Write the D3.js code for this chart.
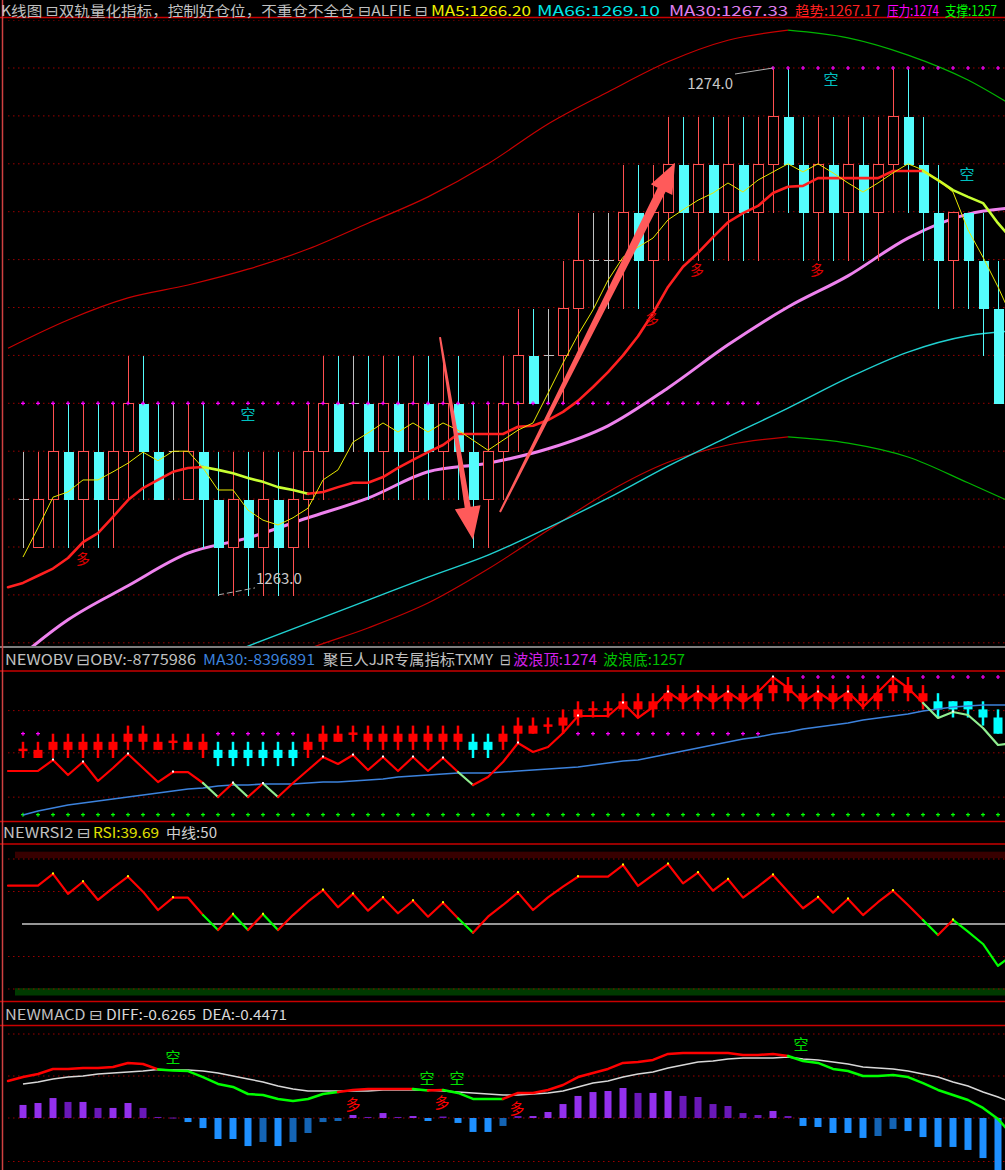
<!doctype html>
<html>
<head>
<meta charset="utf-8">
<title>双轨量化指标</title>
<script src="https://d3js.org/d3.v7.min.js"></script>
<style>
  body { margin:0; background:#000; overflow:hidden; }
  svg { display:block; background:#000; }
  text { font-family:"Noto Sans CJK SC","Noto Sans","DejaVu Sans",sans-serif; }
</style>
</head>
<body>
<svg id="chart" width="1005" height="1170"></svg>
<script>
// ---- candles (index 0..65) ----
const openP  = [1265,1264,1265,1266,1265,1266,1265,1266,1267,1266,
                1266,1265,1266,1265,1264,1265,1264,1265,1264,1265,
                1266,1267,1267,1267,1266,1267,1266,1267,1266,1267,
                1266,1265,1266,1267,1268,1268,1268,1269,1270,1270,
                1270,1271,1270,1271,1272,1271,1272,1271,1272,1271,
                1272,1273,1272,1271,1272,1271,1272,1271,1272,1273,
                1272,1271,1270,1271,1270,1269];
const closeP = [1265,1265,1266,1265,1266,1265,1266,1267,1266,1265,
                1266,1266,1265,1264,1265,1264,1265,1264,1265,1266,
                1267,1266,1267,1266,1267,1266,1267,1266,1267,1266,
                1265,1266,1267,1268,1267,1268,1269,1270,1270,1270,
                1271,1270,1271,1272,1271,1272,1271,1272,1271,1272,
                1273,1272,1271,1272,1271,1272,1271,1272,1273,1272,
                1271,1270,1271,1270,1269,1267];
const highP  = [1266,1266,1267,1267,1267,1267,1267,1268,1268,1267,
                1267,1267,1267,1266,1266,1266,1266,1266,1266,1267,
                1268,1268,1268,1268,1268,1268,1268,1268,1268,1268,
                1267,1267,1268,1269,1269,1269,1270,1271,1271,1271,
                1272,1272,1272,1273,1273,1273,1273,1273,1273,1273,
                1274,1274,1273,1273,1273,1273,1273,1273,1274,1274,
                1273,1272,1271,1271,1271,1270];
const lowP   = [1264,1264,1264,1264,1264,1264,1264,1265,1265,1265,
                1265,1265,1264,1263,1263,1263,1263,1263,1263,1264,
                1265,1266,1266,1265,1265,1265,1265,1265,1265,1265,
                1264,1264,1265,1266,1267,1267,1267,1268,1269,1269,
                1269,1269,1269,1270,1270,1270,1270,1270,1270,1270,
                1271,1271,1270,1270,1270,1270,1270,1270,1271,1271,
                1270,1269,1269,1269,1268,1267];
// wave top (压力) per candle, support (支撑)
const waveTop = [1267,1267,1267,1267,1267,1267,1267,1267,1267,1267,
                 1267,1267,1267,1267,1267,1267,1267,1267,1267,1267,
                 1267,1267,1267,1267,1267,1267,1267,1267,1267,1267,
                 1267,1267,1267,1267,1267,1267,1267,1267,1267,1267,
                 1267,1267,1267,1267,1267,1267,1267,1267,1267,1267,
                 1274,1274,1274,1274,1274,1274,1274,1274,1274,1274,
                 1274,1274,1274,1274,1274,1274];
const waveBottom = 1257;

// ---- per-candle lines, index -1..66 ----
const ma5 = [null,1263.79,1264.40,1265.04,1265.15,1265.40,1265.40,1265.57,1265.75,1265.98,1265.80,
  1266.00,1266.00,1265.65,1265.19,1265.19,1264.77,1264.56,1264.46,1264.61,1264.81,
  1265.40,1265.61,1266.19,1266.38,1266.59,1266.40,1266.59,1266.40,1266.59,1266.44,
  1266.23,1266.02,1266.23,1266.44,1266.59,1267.21,1267.84,1268.43,1268.95,1269.57,
  1270.05,1270.26,1270.45,1270.83,1271.04,1271.24,1271.39,1271.60,1271.41,1271.66,
  1271.83,1272.00,1271.83,1272.00,1271.81,1271.60,1271.41,1271.60,1271.81,1272.00,
  1271.87,1271.66,1271.41,1270.62,1270.05,1269.43,1268.74];
const trend = [1263.16,1263.25,1263.40,1263.55,1263.77,1264.10,1264.29,1264.63,1264.98,1265.23,1265.40,
  1265.57,1265.65,1265.67,1265.61,1265.54,1265.44,1265.36,1265.25,1265.19,1265.11,
  1265.15,1265.25,1265.34,1265.34,1265.46,1265.65,1265.82,1265.98,1266.13,1266.36,
  1266.36,1266.36,1266.36,1266.51,1266.53,1266.65,1266.82,1267.05,1267.34,1267.65,
  1268.00,1268.40,1268.88,1269.43,1269.85,1270.14,1270.47,1270.78,1270.97,1271.12,
  1271.39,1271.52,1271.54,1271.70,1271.70,1271.70,1271.70,1271.70,1271.85,1271.85,
  1271.85,1271.66,1271.45,1271.31,1271.18,1270.76,1270.40];

// ---- smooth lines sampled every 4 candles ----
const sIdx      = [-1,3,7,11,15,19,23,27,31,35,39,43,47,51,55,59,63,66];
const upperBand = [1268.15,1268.74,1269.20,1269.47,1269.80,1270.22,1270.76,1271.31,1272.00,
                   1272.83,1273.50,1274.13,1274.58,1274.79,1274.63,1274.27,1273.75,1273.21];
const lowerBand = [null,null,null,null,1261.33,1261.87,1262.31,1262.83,1263.54,
                   1264.35,1265.15,1265.77,1266.13,1266.30,1266.17,1265.88,1265.34,1264.92];
const ma66      = [null,null,null,1261.45,1261.93,1262.41,1262.89,1263.37,1263.83,
                   1264.40,1265.02,1265.69,1266.30,1266.90,1267.53,1268.07,1268.41,1268.51];
const ma30      = [1261.50,1262.48,1263.19,1263.87,1264.19,1264.61,1265.02,1265.57,1265.75,
                   1266.05,1266.53,1267.32,1268.22,1269.01,1269.66,1270.45,1270.95,1271.08];

// ---- OBV panel (万), index -1..66 ----
const obv = [-902.2,-902.2,-902.2,-891.8,-906.0,-893.7,-911.7,-899.4,-886.1,-899.4,-912.7,
  -903.2,-903.2,-913.6,-926.9,-913.6,-926.9,-914.1,-926.9,-913.6,-901.3,
  -889.0,-895.6,-887.1,-901.3,-889.0,-902.2,-889.0,-902.2,-889.9,-903.2,
  -915.5,-907.9,-893.7,-875.7,-884.2,-879.5,-866.2,-850.1,-850.1,-850.1,
  -837.8,-852.0,-841.6,-827.4,-836.9,-827.4,-836.9,-827.4,-836.9,-827.4,
  -813.2,-823.6,-836.9,-827.4,-836.9,-827.4,-841.6,-827.4,-813.2,-823.6,
  -837.8,-852.0,-846.3,-849.2,-861.5,-877.6,-875.7];
const obvMa = [null,-943.9,-940.1,-937.3,-934.5,-932.6,-930.7,-928.8,-926.9,-925.0,-923.1,
  -921.2,-919.3,-918.3,-916.4,-915.5,-915.5,-914.6,-914.6,-914.6,-913.6,
  -912.7,-912.7,-911.7,-910.8,-909.8,-907.9,-907.0,-906.0,-905.1,-904.1,
  -904.1,-904.1,-903.2,-902.2,-901.3,-900.3,-899.4,-898.4,-896.6,-894.7,
  -892.8,-891.8,-889.0,-886.1,-883.3,-880.4,-877.6,-874.8,-871.9,-870.0,
  -867.2,-865.3,-862.4,-860.5,-858.7,-856.8,-853.9,-852.0,-850.1,-848.2,
  -845.4,-843.5,-841.6,-840.6,-839.7,-839.7,-839.7];
const obvGreenSeg = [12,14,16,29,60,61,62,63,64,65];
const miniCyan = [13,14,15,16,17,18,30,31,61,62,63,64,65];
const obvGrid = [-845,-885,-927];

// ---- RSI, index -1..66 ----
const rsi = [73.6,73.6,73.6,80.8,68.5,76.0,64.8,72.2,79.1,69.9,58.6,
  66.2,66.2,55.5,46.3,56.0,46.3,56.0,46.3,55.5,63.7,
  70.9,60.3,68.5,58.2,66.2,56.6,64.3,54.5,63.1,53.5,
  44.6,54.5,61.7,69.3,58.6,66.4,73.0,79.1,79.1,79.1,
  86.3,73.4,80.2,86.9,75.0,81.6,70.5,77.5,66.2,73.0,
  80.2,69.9,59.7,66.4,57.0,65.4,55.5,63.4,70.5,61.7,
  52.5,43.2,52.5,45.3,37.7,24.3,31.0];
const rsiGreenSeg = [12,14,16,29,60,62,63,64,65];
const rsiLevels = [90,70,30,10];
const rsiMid = 50;
const rsiTopBand = [90.5,94.5];
const rsiBottomBand = [6,10.5];

// ---- MACD, lines index -1..66, bars index 0..65 ----
const diff = [-0.313,-0.287,-0.267,-0.233,-0.233,-0.227,-0.227,-0.220,-0.193,-0.200,-0.236,
  -0.243,-0.247,-0.287,-0.333,-0.353,-0.400,-0.407,-0.433,-0.447,-0.433,
  -0.400,-0.387,-0.373,-0.367,-0.367,-0.367,-0.367,-0.377,-0.373,-0.393,
  -0.433,-0.433,-0.433,-0.393,-0.393,-0.373,-0.340,-0.287,-0.260,-0.233,
  -0.193,-0.187,-0.173,-0.133,-0.127,-0.127,-0.127,-0.127,-0.140,-0.140,
  -0.133,-0.147,-0.180,-0.193,-0.233,-0.247,-0.280,-0.280,-0.273,-0.287,
  -0.327,-0.373,-0.407,-0.440,-0.493,-0.567,-0.680];
const dea = [null,-0.333,-0.320,-0.300,-0.287,-0.280,-0.267,-0.260,-0.253,-0.247,-0.237,
  -0.240,-0.240,-0.247,-0.260,-0.280,-0.300,-0.320,-0.347,-0.367,-0.380,
  -0.380,-0.380,-0.380,-0.380,-0.373,-0.373,-0.373,-0.373,-0.380,-0.387,
  -0.393,-0.400,-0.407,-0.407,-0.400,-0.393,-0.380,-0.353,-0.327,-0.313,
  -0.287,-0.267,-0.253,-0.227,-0.207,-0.187,-0.180,-0.167,-0.160,-0.160,
  -0.160,-0.153,-0.167,-0.173,-0.187,-0.200,-0.220,-0.227,-0.233,-0.247,
  -0.267,-0.287,-0.320,-0.347,-0.387,-0.420,-0.460];
const macdBar = [0.087,0.100,0.133,0.107,0.107,0.067,0.067,0.100,0.067,0.007,
  0.003,-0.027,-0.067,-0.140,-0.140,-0.187,-0.160,-0.187,-0.160,-0.100,
  -0.027,-0.020,0.020,0.007,0.033,0.007,0.013,-0.020,0.010,-0.033,
  -0.093,-0.093,-0.053,0.013,0.013,0.040,0.093,0.147,0.173,0.180,
  0.200,0.167,0.167,0.180,0.147,0.140,0.093,0.080,0.033,0.020,
  0.047,0.013,-0.053,-0.060,-0.100,-0.100,-0.133,-0.120,-0.073,-0.087,
  -0.127,-0.193,-0.193,-0.213,-0.267,-0.347];
const macdGrid = [0,-0.28,-0.56,-0.85];

// ---- annotations ----
const kongMain = [[15,1266.78],[53.87,1273.79],[62.93,1271.79]];
const duoMain  = [[4,1263.77],[41.93,1268.78],[44.93,1269.80],[52.93,1269.80]];
const kongMacd = [[10,-0.153],[26.93,-0.287],[28.93,-0.293],[51.87,-0.06]];
const duoMacd  = [[22,-0.46],[27.93,-0.453],[32.93,-0.487]];
const downArrow = [[27.8,1268.38],[30.0,1264.15]];
const upArrow   = [[31.8,1264.73],[43.47,1272.02]];
const lowMark  = {idx:13, price:1263.0};
const highMark = {idx:50, price:1274.0};

const headMain = [
  {t:"K线图 ⊟双轨量化指标，控制好仓位，不重仓不全仓 ⊟ALFIE ⊟", c:"#c0c0c0", x:1, w:427},
  {t:"MA5:1266.20",  c:"#f0f000", x:431, w:100},
  {t:"MA66:1269.10", c:"#00e8e8", x:537, w:123},
  {t:"MA30:1267.33", c:"#e080f0", x:669, w:119},
  {t:"趋势:1267.17", c:"#ff2020", x:795, w:85},
  {t:"压力:1274",    c:"#ff00ff", x:887, w:52},
  {t:"支撑:1257",    c:"#00ff00", x:945, w:52}];
const headObv = [
  {t:"NEWOBV ⊟OBV:-8775986", c:"#c0c0c0", x:5, w:191},
  {t:"MA30:-8396891", c:"#3c82dc", x:203, w:112},
  {t:"聚巨人JJR专属指标TXMY", c:"#c0c0c0", x:323, w:170},
  {t:"⊟", c:"#c0c0c0", x:500, w:11},
  {t:"波浪顶:1274", c:"#d020e8", x:513, w:84},
  {t:"波浪底:1257", c:"#00c000", x:603, w:82}];
const headRsi = [
  {t:"NEWRSI2 ⊟", c:"#c0c0c0", x:3, w:88},
  {t:"RSI:39.69", c:"#e0e000", x:93, w:66},
  {t:"中线:50",   c:"#d0d0d0", x:166, w:51}];
const headMacd = [
  {t:"NEWMACD ⊟", c:"#c0c0c0", x:5, w:98},
  {t:"DIFF:-0.6265", c:"#d8d8d8", x:106, w:90},
  {t:"DEA:-0.4471",  c:"#d8d8d8", x:202, w:85}];

// ---- scales ----
const svg = d3.select("#chart");
const x     = d3.scaleLinear().domain([0,65]).range([23,998]);
const yMain = d3.scaleLinear().domain([1262,1275]).range([642.8,20.1]);
const yMini = d3.scaleLinear().domain([1257,1274]).range([814.7,677]);
const yObv  = d3.scaleLinear().domain([-980,-810]).range([853.1,673.65]);
const yRsi  = d3.scaleLinear().domain([0,100]).range([1005.25,842.75]);
const yDiff = d3.scaleLinear().domain([-1,0]).range([1184,1034]);
const yBar  = d3.scaleLinear().domain([-1,0]).range([1268,1118]);

const UP = "#ff5050", DN = "#54fcfc", DOJI = "#c0c0c0", GRID = "#9a0000";
const idxs = d3.range(openP.length);

const defs = svg.append("defs");
function panel(id, y0, y1) {
  defs.append("clipPath").attr("id", id).append("rect")
    .attr("x",5).attr("y",y0).attr("width",1000).attr("height",y1-y0);
  return svg.append("g").attr("clip-path",`url(#${id})`);
}

function dotted(g, ys, x0) {
  g.selectAll(null).data(ys).join("line")
    .attr("x1",x0).attr("x2",1005).attr("y1",d=>d).attr("y2",d=>d)
    .attr("stroke",GRID).attr("stroke-width",1).attr("stroke-dasharray","1.5,3.5");
}

// split a series into same-colour runs and draw each run as a path
function colorRuns(g, vals, yS, colorOf, width) {
  const line = d3.line().x(d=>x(d[0])).y(d=>yS(d[1]));
  let run = [], col = null;
  const flush = () => { if (run.length>1) g.append("path").attr("d",line(run))
      .attr("fill","none").attr("stroke",col).attr("stroke-width",width)
      .attr("stroke-linejoin","round").attr("stroke-linecap","round"); };
  for (let k=0; k<vals.length-1; k++) {
    const i = k-1;
    if (vals[k]==null || vals[k+1]==null) { flush(); run=[]; col=null; continue; }
    const c = colorOf(i, k);
    if (c !== col) { flush(); run = [[i, vals[k]]]; col = c; }
    run.push([i+1, vals[k+1]]);
  }
  flush();
}

function smooth(g, vals, yS, colA, colB, width) {
  const data = sIdx.map((ix,k)=>[ix, vals[k]]).filter(d=>d[1]!=null);
  const line = d3.line().x(d=>x(d[0])).y(d=>yS(d[1])).curve(d3.curveMonotoneX);
  if (!colB) {
    g.append("path").attr("d",line(data)).attr("fill","none").attr("stroke",colA).attr("stroke-width",width);
    return;
  }
  const top = d3.maxIndex(data, d=>d[1]);
  g.append("path").attr("d",line(data.slice(0,top+1))).attr("fill","none").attr("stroke",colA).attr("stroke-width",width);
  g.append("path").attr("d",line(data.slice(top))).attr("fill","none").attr("stroke",colB).attr("stroke-width",width);
}

function plus(g, pts, color) {
  g.selectAll(null).data(pts).join("path")
    .attr("d",d=>`M${d[0]-2},${d[1]}H${d[0]+2}M${d[0]},${d[1]-2}V${d[1]+2}`)
    .attr("stroke",color).attr("stroke-width",1.2);
}

function peaks(g, vals, yS, color) {
  for (let k=1; k<vals.length-1; k++) {
    if (vals[k]==null||vals[k-1]==null||vals[k+1]==null) continue;
    if (vals[k]>vals[k-1] && vals[k]>=vals[k+1])
      g.append("rect").attr("x",x(k-1)-1).attr("y",yS(vals[k])-1.5).attr("width",2).attr("height",2).attr("fill",color);
  }
}

function arrow(g, a, b, w1, w2, headLen, headHalf) {
  const x1=x(a[0]), y1=yMain(a[1]), x2=x(b[0]), y2=yMain(b[1]);
  const L=Math.hypot(x2-x1,y2-y1), ux=(x2-x1)/L, uy=(y2-y1)/L, nx=-uy, ny=ux;
  const bx=x2-ux*headLen, by=y2-uy*headLen;
  const p=[[x1+nx*w1/2,y1+ny*w1/2],[bx+nx*w2/2,by+ny*w2/2],[bx+nx*headHalf,by+ny*headHalf],[x2,y2],
           [bx-nx*headHalf,by-ny*headHalf],[bx-nx*w2/2,by-ny*w2/2],[x1-nx*w1/2,y1-ny*w1/2]];
  g.append("path").attr("d","M"+p.map(q=>q.join(",")).join("L")+"Z").attr("fill","#ff5a5a");
}

function header(list, y, size) {
  svg.append("g").selectAll(null).data(list).join("text")
    .attr("x",d=>d.x).attr("y",y).attr("fill",d=>d.c).attr("font-size",size)
    .attr("textLength",d=>d.w).attr("lengthAdjust","spacingAndGlyphs").text(d=>d.t);
}

function hline(y, color, w) {
  svg.append("line").attr("x1",0).attr("x2",1005).attr("y1",y).attr("y2",y)
    .attr("stroke",color).attr("stroke-width",w);
}

// ================= main panel =================
const main = panel("cMain", 20, 646);
dotted(main, d3.range(1262,1276).map(yMain), 8);
smooth(main, upperBand, yMain, "#c80000", "#00b400", 1.2);
smooth(main, lowerBand, yMain, "#c00000", "#00b400", 1.2);
smooth(main, ma66, yMain, "#20d0d0", null, 1.4);
smooth(main, ma30, yMain, "#ee82ee", null, 3);

const cg = main.append("g").attr("shape-rendering","crispEdges");
cg.selectAll("g.k").data(idxs).join("g").attr("class","k").each(function(i){
  const g = d3.select(this), o=openP[i], c=closeP[i];
  const cx = Math.round(x(i))+0.5;
  const top = Math.round(yMain(Math.max(o,c)))+0.5, bot = Math.round(yMain(Math.min(o,c)))+0.5;
  const hy = Math.round(yMain(highP[i]))+0.5, ly = Math.round(yMain(lowP[i]))+0.5;
  if (c>o) {
    if (hy<top) g.append("line").attr("x1",cx).attr("x2",cx).attr("y1",hy).attr("y2",top).attr("stroke",UP);
    if (ly>bot) g.append("line").attr("x1",cx).attr("x2",cx).attr("y1",bot).attr("y2",ly).attr("stroke",UP);
    g.append("rect").attr("x",cx-5).attr("y",top).attr("width",10).attr("height",bot-top)
      .attr("fill","#000").attr("stroke",UP);
  } else if (c<o) {
    g.append("line").attr("x1",cx).attr("x2",cx).attr("y1",hy).attr("y2",ly).attr("stroke",DN);
    g.append("rect").attr("x",cx-5).attr("y",top).attr("width",10.5).attr("height",bot-top).attr("fill",DN);
  } else {
    g.append("line").attr("x1",cx).attr("x2",cx).attr("y1",hy).attr("y2",ly).attr("stroke",DOJI);
    g.append("line").attr("x1",cx-5).attr("x2",cx+5).attr("y1",top).attr("y2",top).attr("stroke",DOJI);
  }
});

colorRuns(main, trend, yMain, (i,k)=> trend[k+1] < trend[k] ? "#c8ff32" : "#ff2020", 2.6);
main.append("path").attr("d", d3.line().defined(d=>d[1]!=null).x(d=>x(d[0])).y(d=>yMain(d[1]))(ma5.map((v,k)=>[k-1,v])))
  .attr("fill","none").attr("stroke","#e8e800").attr("stroke-width",1);
plus(main, idxs.map(i=>[x(i), yMain(waveTop[i])]), "#ff00ff");

// labels on the price panel
main.selectAll(null).data(kongMain).join("text")
  .attr("x",d=>x(d[0])).attr("y",d=>yMain(d[1])).attr("text-anchor","middle").attr("dominant-baseline","central")
  .attr("font-size",15).attr("fill","#00c0c0").text("空");
main.selectAll(null).data(duoMain).join("text")
  .attr("x",d=>x(d[0])).attr("y",d=>yMain(d[1])).attr("text-anchor","middle").attr("dominant-baseline","central")
  .attr("font-size",14).attr("fill","#e00000").text("多");

const lx = x(lowMark.idx), ly = yMain(lowMark.price);
main.append("path").attr("d",`M${lx},${ly}L${lx+37},${ly-7}`).attr("stroke","#b0b0b0").attr("stroke-dasharray","6,3").attr("fill","none");
main.append("text").attr("x",lx+38).attr("y",ly-11).attr("font-size",15).attr("fill","#c8c8c8").text(lowMark.price.toFixed(1));
const hx = x(highMark.idx), hy0 = yMain(highMark.price);
main.append("path").attr("d",`M${hx},${hy0}L${hx-38},${hy0+6}`).attr("stroke","#b0b0b0").attr("fill","none");
main.append("text").attr("x",hx-40).attr("y",hy0+21).attr("text-anchor","end").attr("font-size",15).attr("fill","#c8c8c8").text(highMark.price.toFixed(1));

arrow(main, downArrow[0], downArrow[1], 2, 6, 33, 13);
arrow(main, upArrow[0], upArrow[1], 2, 9, 30, 12);

// ================= OBV panel =================
const ob = panel("cObv", 672, 820);
dotted(ob, obvGrid.map(yObv), 8);
plus(ob, idxs.map(i=>[x(i), yMini(waveBottom)]), "#00ff00");
plus(ob, idxs.filter(i=>!(lowP[i]<=waveTop[i] && waveTop[i]<=highP[i])).map(i=>[x(i), yMini(waveTop[i])]), "#ff00ff");
const mg = ob.append("g");
mg.selectAll("g.m").data(idxs).join("g").attr("class","m").each(function(i){
  const g = d3.select(this), col = miniCyan.includes(i) ? "#00ffff" : "#ff0000";
  const cx = x(i), o=openP[i], c=closeP[i];
  g.append("rect").attr("x",cx-1.25).attr("y",yMini(highP[i])).attr("width",2.5)
    .attr("height",yMini(lowP[i])-yMini(highP[i])).attr("fill",col);
  const t = yMini(Math.max(o,c)), b = yMini(Math.min(o,c));
  g.append("rect").attr("x",cx-4.5).attr("y", o===c ? t-1.25 : t).attr("width",9)
    .attr("height", o===c ? 2.5 : b-t).attr("fill",col);
});
ob.append("path").attr("d", d3.line().defined(d=>d[1]!=null).x(d=>x(d[0])).y(d=>yObv(d[1]))(obvMa.map((v,k)=>[k-1,v])))
  .attr("fill","none").attr("stroke","#3c82dc").attr("stroke-width",1.6);
colorRuns(ob, obv, yObv, i=> obvGreenSeg.includes(i) ? "#90ee90" : "#ff0000", 2.2);
peaks(ob, obv, yObv, "#ffffff");

// ================= RSI panel =================
const rs = panel("cRsi", 845, 999);
rs.append("rect").attr("x",15).attr("width",990).attr("y",yRsi(rsiTopBand[1]))
  .attr("height",yRsi(rsiTopBand[0])-yRsi(rsiTopBand[1])).attr("fill","#380000");
rs.append("rect").attr("x",15).attr("width",990).attr("y",yRsi(rsiBottomBand[1]))
  .attr("height",yRsi(rsiBottomBand[0])-yRsi(rsiBottomBand[1])).attr("fill","#003a00");
dotted(rs, rsiLevels.map(yRsi), 8);
rs.append("line").attr("x1",22).attr("x2",1005).attr("y1",yRsi(rsiMid)).attr("y2",yRsi(rsiMid))
  .attr("stroke","#c8c8c8").attr("stroke-width",1.6);
colorRuns(rs, rsi, yRsi, i=> rsiGreenSeg.includes(i) ? "#00ff00" : "#ff0000", 2.2);
peaks(rs, rsi, yRsi, "#ffff00");

// ================= MACD panel =================
const mc = panel("cMacd", 1026, 1170);
dotted(mc, macdGrid.map(yDiff), 8);
mc.append("g").selectAll("rect").data(macdBar).join("rect")
  .attr("x",(d,i)=>x(i)-3.5).attr("width",7)
  .attr("y",d=>Math.min(yBar(d),yBar(0))).attr("height",d=>Math.max(1,Math.abs(yBar(d)-yBar(0))))
  .attr("fill",(d,i)=>{
    const grow = i===0 || Math.abs(d) >= Math.abs(macdBar[i-1]);
    return d>=0 ? (grow ? "#9430ec" : "#6a18b8") : (grow ? "#1e90ff" : "#1464b4");
  });
mc.append("path").attr("d", d3.line().defined(d=>d[1]!=null).x(d=>x(d[0])).y(d=>yDiff(d[1]))(dea.map((v,k)=>[k-1,v])))
  .attr("fill","none").attr("stroke","#d8d8d8").attr("stroke-width",1.5);
colorRuns(mc, diff, yDiff, (i,k)=> (dea[k+1]==null || diff[k+1] >= dea[k+1]) ? "#ff0000" : "#00ff00", 2.5);
mc.selectAll(null).data(kongMacd).join("text")
  .attr("x",d=>x(d[0])).attr("y",d=>yDiff(d[1])).attr("text-anchor","middle").attr("dominant-baseline","central")
  .attr("font-size",15).attr("fill","#00e000").text("空");
mc.selectAll(null).data(duoMacd).join("text")
  .attr("x",d=>x(d[0])).attr("y",d=>yDiff(d[1])).attr("text-anchor","middle").attr("dominant-baseline","central")
  .attr("font-size",15).attr("fill","#ff0000").text("多");

// ================= frame and headers =================
hline(17.5, "#c80000", 1.5);
hline(647, "#a8a8a8", 1.5);
hline(671, "#c80000", 1.5);
hline(821.5, "#c80000", 1.5);
hline(844, "#c80000", 1.5);
hline(1001.5, "#c80000", 1.5);
hline(1025.5, "#c80000", 1.5);
svg.append("line").attr("x1",2.5).attr("x2",2.5).attr("y1",0).attr("y2",1170).attr("stroke","#d04040").attr("stroke-width",1.5);

header(headMain, 15.5, 14);
header(headObv, 665, 15);
header(headRsi, 838, 14);
header(headMacd, 1020, 14);
</script>
</body>
</html>
